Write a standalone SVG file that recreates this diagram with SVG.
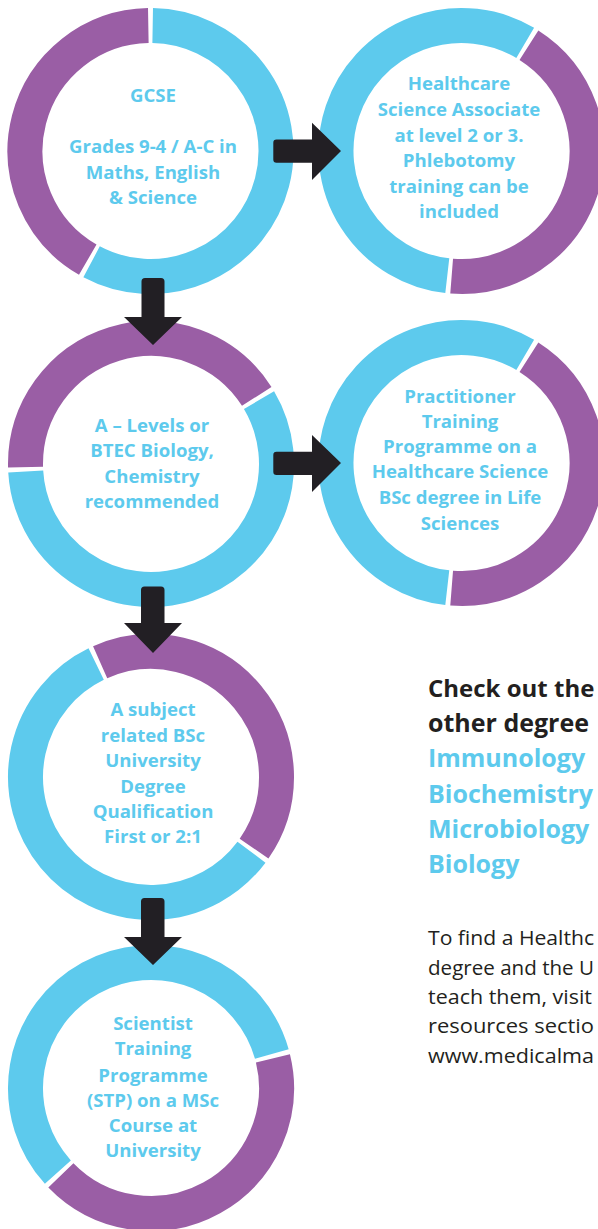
<svg xmlns="http://www.w3.org/2000/svg" width="598" height="1229" viewBox="0 0 598 1229">
<style>
.blue{fill:none;stroke:#5dcaed;stroke-width:35}
.purple{fill:none;stroke:#9a5ea5;stroke-width:35}
.lbl{font-family:"Open Sans","Liberation Sans",sans-serif;font-weight:bold;font-size:18.6px;fill:#5dcaed;text-anchor:middle}
.arrow{fill:#221f24}
.head{font-family:"Open Sans","Liberation Sans",sans-serif;font-weight:bold;font-size:25px}
.para{font-family:"Open Sans","Liberation Sans",sans-serif;font-size:20px;fill:#231f20}
</style>
<rect width="598" height="1229" fill="#fff"/>
<g id="n1">
<path class="blue" d="M152.69,25.52 A125.5,125.5 0 1 1 91.58,261.81"/>
<path class="purple" d="M87.75,259.69 A125.5,125.5 0 0 1 148.31,25.52"/>
<text class="lbl"><tspan x="153" y="102">GCSE</tspan><tspan x="153" y="153">Grades 9-4 / A-C in</tspan><tspan x="153" y="179">Maths, English</tspan><tspan x="153" y="204">&amp; Science</tspan></text>
</g>
<g id="n2">
<path class="blue" d="M447.29,275.69 A125.5,125.5 0 1 1 525.20,42.87"/>
<path class="purple" d="M528.93,45.15 A125.5,125.5 0 0 1 451.65,276.11"/>
<text class="lbl"><tspan x="459" y="90">Healthcare</tspan><tspan x="459" y="116">Science Associate</tspan><tspan x="459" y="142">at level 2 or 3.</tspan><tspan x="459" y="167">Phlebotomy</tspan><tspan x="459" y="193">training can be</tspan><tspan x="459" y="218">included</tspan></text>
</g>
<g id="n3">
<path class="purple" d="M25.54,467.07 A125.5,125.5 0 0 1 256.73,396.38"/>
<path class="blue" d="M259.02,400.12 A125.5,125.5 0 1 1 25.72,471.44"/>
<text class="lbl"><tspan x="152" y="432">A – Levels or</tspan><tspan x="152" y="457">BTEC Biology,</tspan><tspan x="152" y="483">Chemistry</tspan><tspan x="152" y="508">recommended</tspan></text>
</g>
<g id="n4">
<path class="blue" d="M447.29,587.69 A125.5,125.5 0 1 1 525.20,354.87"/>
<path class="purple" d="M528.93,357.15 A125.5,125.5 0 0 1 451.65,588.11"/>
<text class="lbl"><tspan x="460" y="403">Practitioner</tspan><tspan x="460" y="428">Training</tspan><tspan x="460" y="453">Programme on a</tspan><tspan x="460" y="478">Healthcare Science</tspan><tspan x="460" y="504">BSc degree in Life</tspan><tspan x="460" y="530">Sciences</tspan></text>
</g>
<g id="n5">
<path class="purple" d="M100.15,662.26 A125.5,125.5 0 0 1 254.05,848.62"/>
<path class="blue" d="M251.49,852.18 A125.5,125.5 0 1 1 96.18,664.10"/>
<text class="lbl"><tspan x="153" y="716">A subject</tspan><tspan x="153" y="742">related BSc</tspan><tspan x="153" y="767">University</tspan><tspan x="153" y="793">Degree</tspan><tspan x="153" y="818">Qualification</tspan><tspan x="153" y="843">First or 2:1</tspan></text>
</g>
<g id="n6">
<path class="blue" d="M57.88,1172.14 A125.5,125.5 0 1 1 271.82,1054.04"/>
<path class="purple" d="M272.93,1058.28 A125.5,125.5 0 0 1 60.88,1175.34"/>
<text class="lbl"><tspan x="153" y="1030">Scientist</tspan><tspan x="153" y="1055">Training</tspan><tspan x="153" y="1082">Programme</tspan><tspan x="153" y="1107">(STP) on a MSc</tspan><tspan x="153" y="1132">Course at</tspan><tspan x="153" y="1157">University</tspan></text>
</g>
<g id="connectors">
<path class="arrow" d="M312,139.5 L312,122.7 L341,151 L312,180 L312,162.7 L276.5,162.7 Q273.3,162.7 273.3,159.5 L273.3,142.7 Q273.3,139.5 276.5,139.5 Z"/>
<path class="arrow" d="M312,451.7 L312,435 L341,463 L312,492 L312,475 L276.5,475 Q273.3,475 273.3,471.8 L273.3,454.9 Q273.3,451.7 276.5,451.7 Z"/>
<path class="arrow" d="M141.5,317 L124,317 L153,345 L182,317 L164.5,317 L164.5,281.5 Q164.5,278 161,278 L145,278 Q141.5,278 141.5,281.5 Z"/>
<path class="arrow" d="M141,623 L124,623 L153,653 L182,623 L164.5,623 L164.5,590 Q164.5,586.5 161,586.5 L144.5,586.5 Q141,586.5 141,590 Z"/>
<path class="arrow" d="M141,937 L124,937 L153,965 L182,937 L164.5,937 L164.5,901.5 Q164.5,898 161,898 L144.5,898 Q141,898 141,901.5 Z"/>
</g>
<g id="side">
<text class="head" fill="#231f20" x="428" y="697" style="font-size:24px">Check out the</text>
<text class="head" fill="#231f20" x="428" y="732">other degree</text>
<text class="head" fill="#5dcaed"><tspan x="428" y="767">Immunology</tspan><tspan x="428" y="803">Biochemistry</tspan><tspan x="428" y="838">Microbiology</tspan><tspan x="428" y="873">Biology</tspan></text>
<text class="para"><tspan x="428" y="945" textLength="166" lengthAdjust="spacingAndGlyphs">To find a Healthc</tspan><tspan x="428" y="975" textLength="166" lengthAdjust="spacingAndGlyphs">degree and the U</tspan><tspan x="428" y="1004" textLength="164" lengthAdjust="spacingAndGlyphs">teach them, visit</tspan><tspan x="428" y="1033" textLength="166" lengthAdjust="spacingAndGlyphs">resources sectio</tspan><tspan x="428" y="1063" textLength="166" lengthAdjust="spacingAndGlyphs">www.medicalma</tspan></text>
</g>
</svg>
